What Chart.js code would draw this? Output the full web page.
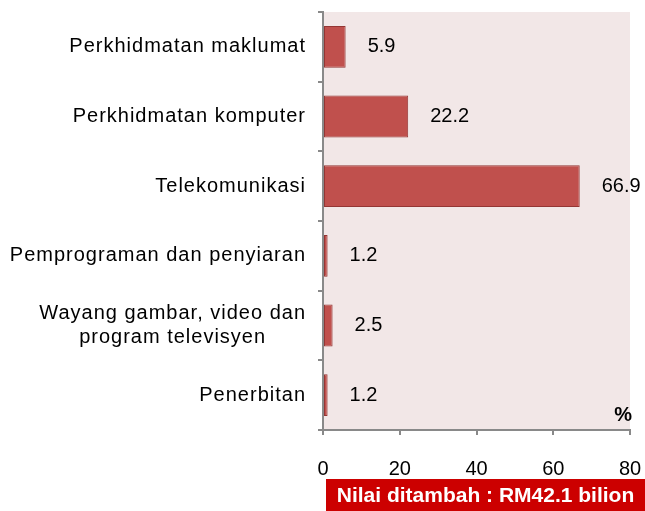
<!DOCTYPE html>
<html>
<head>
<meta charset="utf-8">
<script src="https://cdn.jsdelivr.net/npm/chart.js@4/dist/chart.umd.min.js"></script>
<style>
  body { margin: 0; background: #fff; }
  canvas { display: block; }
</style>
</head>
<body>
<canvas id="myChart" width="645" height="511"></canvas>
<script>
// Kategori (uppifrån och ned)
const categories = [
    'Perkhidmatan maklumat',
    'Perkhidmatan komputer',
    'Telekomunikasi',
    'Pemprograman dan penyiaran',
    ['Wayang gambar, video dan', 'program televisyen'],
    'Penerbitan'
];
const values = [5.9, 22.2, 66.9, 1.2, 2.5, 1.2];
const axisMin = 0;
const axisMax = 80;
const axisStep = 20;
const unitLabel = '%';
const footerText = 'Nilai ditambah : RM42.1 bilion';

const FONT = '"Liberation Sans", Arial, sans-serif';
const AXIS_GREY = '#898989';

// Bakgrund för ritytan
const plotBg = {
    id: 'plotBg',
    beforeDraw(chart) {
        const { ctx, chartArea: a } = chart;
        ctx.save();
        ctx.fillStyle = '#F2E7E7';
        ctx.fillRect(a.left, a.top, a.right - a.left, a.bottom - a.top);
        ctx.restore();
    }
};

// Kategorietiketter, värden, enhet och ruta längst ned
const extras = {
    id: 'extras',
    afterDraw(chart) {
        const { ctx, chartArea: a } = chart;
        const x = chart.scales.x;
        const y = chart.scales.y;
        ctx.save();
        ctx.fillStyle = '#000';
        ctx.textBaseline = 'middle';

        // kategorier
        ctx.font = '20px ' + FONT;
        ctx.letterSpacing = '1px';
        const right = a.left - 17;
        categories.forEach((lab, i) => {
            const cy = y.getPixelForValue(i);
            if (Array.isArray(lab)) {
                const w = Math.max(...lab.map(l => ctx.measureText(l).width));
                const cx = right - w / 2;
                ctx.textAlign = 'center';
                const lh = 24;
                lab.forEach((l, j) => {
                    ctx.fillText(l, cx, cy + (j - (lab.length - 1) / 2) * lh);
                });
            } else {
                ctx.textAlign = 'right';
                ctx.fillText(lab, right, cy);
            }
        });
        ctx.letterSpacing = '0px';

        // värden
        ctx.textAlign = 'left';
        values.forEach((v, i) => {
            ctx.fillText(v.toFixed(1), x.getPixelForValue(v) + 22, y.getPixelForValue(i));
        });

        // enhet
        ctx.font = 'bold 20px ' + FONT;
        ctx.textAlign = 'right';
        ctx.fillText(unitLabel, a.right + 2, a.bottom - 15);

        // röd ruta
        ctx.fillStyle = '#CC0000';
        ctx.fillRect(326, 479, chart.width - 326, chart.height - 479);
        ctx.fillStyle = '#fff';
        ctx.font = 'bold 21px ' + FONT;
        ctx.textAlign = 'center';
        ctx.fillText(footerText, (326 + chart.width) / 2, 496);
        ctx.restore();
    }
};

const ctx = document.getElementById('myChart').getContext('2d');
new Chart(ctx, {
    type: 'bar',
    data: {
        labels: categories,
        datasets: [{
            data: values,
            backgroundColor: '#C0504D',
            borderColor: '#943634',
            borderWidth: 1,
            borderSkipped: false,
            barPercentage: 0.6,
            categoryPercentage: 1
        }]
    },
    options: {
        indexAxis: 'y',
        responsive: false,
        animation: false,
        layout: { padding: { top: 12, right: 15, left: 0, bottom: 0 } },
        plugins: {
            legend: { display: false },
            tooltip: { enabled: false }
        },
        scales: {
            x: {
                min: axisMin,
                max: axisMax,
                afterFit(scale) {
                    scale.height = 81;
                    scale.paddingLeft = 0;
                    scale.paddingRight = 0;
                },
                ticks: {
                    stepSize: axisStep,
                    padding: 22,
                    color: '#000',
                    font: { family: FONT, size: 20 }
                },
                grid: {
                    drawOnChartArea: false,
                    tickLength: 5,
                    color: AXIS_GREY,
                    lineWidth: 2
                },
                border: { display: true, color: AXIS_GREY, width: 2 }
            },
            y: {
                afterFit(scale) { scale.width = 323; },
                ticks: { display: false },
                grid: {
                    offset: true,
                    drawOnChartArea: false,
                    tickLength: 5,
                    color: AXIS_GREY,
                    lineWidth: 2
                },
                border: { display: true, color: AXIS_GREY, width: 2 }
            }
        }
    },
    plugins: [plotBg, extras]
});
</script>
</body>
</html>
